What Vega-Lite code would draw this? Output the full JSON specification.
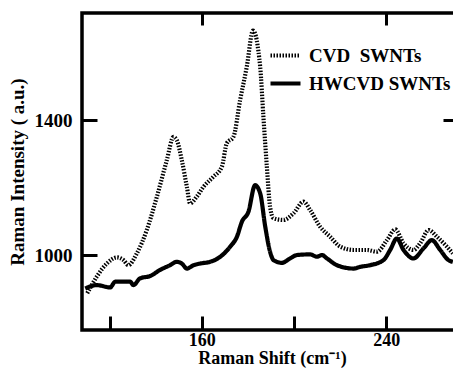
{
  "$schema": "https://vega.github.io/schema/vega-lite/v6.json",
  "width": 378,
  "height": 317,
  "autosize": {"type": "none"},
  "padding": {"left": 82, "top": 13, "right": 0, "bottom": 38},
  "background": "white",
  "config": {
    "view": {"stroke": "black", "strokeWidth": 3.5},
    "font": "Liberation Serif",
    "axis": {"domain": false, "grid": false, "tickColor": "black", "tickWidth": 3, "labelFont": "Liberation Serif", "labelFontWeight": "bold", "labelFontSize": 19, "labelColor": "black", "titleFont": "Liberation Serif", "titleFontWeight": "bold", "titleFontSize": 18, "titleColor": "black"},
    "legend": {"labelFont": "Liberation Serif", "labelFontWeight": "bold", "labelFontSize": 19, "labelColor": "black"}
  },
  "data": {"values": [
    {"x":110.3,"y":887,"s":"CVD\u00a0 SWNTs"},
    {"x":114.4,"y":936,"s":"CVD\u00a0 SWNTs"},
    {"x":118.8,"y":975,"s":"CVD\u00a0 SWNTs"},
    {"x":123.1,"y":993,"s":"CVD\u00a0 SWNTs"},
    {"x":126,"y":985,"s":"CVD\u00a0 SWNTs"},
    {"x":128.1,"y":970,"s":"CVD\u00a0 SWNTs"},
    {"x":131.8,"y":1005,"s":"CVD\u00a0 SWNTs"},
    {"x":136.1,"y":1074,"s":"CVD\u00a0 SWNTs"},
    {"x":140.5,"y":1173,"s":"CVD\u00a0 SWNTs"},
    {"x":144.8,"y":1281,"s":"CVD\u00a0 SWNTs"},
    {"x":147.7,"y":1350,"s":"CVD\u00a0 SWNTs"},
    {"x":149.1,"y":1341,"s":"CVD\u00a0 SWNTs"},
    {"x":151.3,"y":1281,"s":"CVD\u00a0 SWNTs"},
    {"x":153.5,"y":1202,"s":"CVD\u00a0 SWNTs"},
    {"x":154.9,"y":1153,"s":"CVD\u00a0 SWNTs"},
    {"x":157.8,"y":1173,"s":"CVD\u00a0 SWNTs"},
    {"x":160.7,"y":1202,"s":"CVD\u00a0 SWNTs"},
    {"x":165,"y":1232,"s":"CVD\u00a0 SWNTs"},
    {"x":168.7,"y":1262,"s":"CVD\u00a0 SWNTs"},
    {"x":170.8,"y":1331,"s":"CVD\u00a0 SWNTs"},
    {"x":173.7,"y":1350,"s":"CVD\u00a0 SWNTs"},
    {"x":176.6,"y":1459,"s":"CVD\u00a0 SWNTs"},
    {"x":179.5,"y":1558,"s":"CVD\u00a0 SWNTs"},
    {"x":182.2,"y":1665,"s":"CVD\u00a0 SWNTs"},
    {"x":185.3,"y":1558,"s":"CVD\u00a0 SWNTs"},
    {"x":186.7,"y":1410,"s":"CVD\u00a0 SWNTs"},
    {"x":188.2,"y":1262,"s":"CVD\u00a0 SWNTs"},
    {"x":189.6,"y":1143,"s":"CVD\u00a0 SWNTs"},
    {"x":191.1,"y":1109,"s":"CVD\u00a0 SWNTs"},
    {"x":195.4,"y":1104,"s":"CVD\u00a0 SWNTs"},
    {"x":199.8,"y":1124,"s":"CVD\u00a0 SWNTs"},
    {"x":204.1,"y":1158,"s":"CVD\u00a0 SWNTs"},
    {"x":207,"y":1133,"s":"CVD\u00a0 SWNTs"},
    {"x":211.3,"y":1084,"s":"CVD\u00a0 SWNTs"},
    {"x":215.7,"y":1054,"s":"CVD\u00a0 SWNTs"},
    {"x":220,"y":1025,"s":"CVD\u00a0 SWNTs"},
    {"x":225.8,"y":1015,"s":"CVD\u00a0 SWNTs"},
    {"x":231.6,"y":1015,"s":"CVD\u00a0 SWNTs"},
    {"x":236,"y":1010,"s":"CVD\u00a0 SWNTs"},
    {"x":240.3,"y":1044,"s":"CVD\u00a0 SWNTs"},
    {"x":243.9,"y":1076,"s":"CVD\u00a0 SWNTs"},
    {"x":247.5,"y":1035,"s":"CVD\u00a0 SWNTs"},
    {"x":251.8,"y":1015,"s":"CVD\u00a0 SWNTs"},
    {"x":254.7,"y":1035,"s":"CVD\u00a0 SWNTs"},
    {"x":258.4,"y":1074,"s":"CVD\u00a0 SWNTs"},
    {"x":262,"y":1054,"s":"CVD\u00a0 SWNTs"},
    {"x":266.3,"y":1025,"s":"CVD\u00a0 SWNTs"},
    {"x":268.9,"y":1005,"s":"CVD\u00a0 SWNTs"},
    {"x":109.4,"y":901,"s":"HWCVD SWNTs"},
    {"x":114.4,"y":911,"s":"HWCVD SWNTs"},
    {"x":120.2,"y":904,"s":"HWCVD SWNTs"},
    {"x":122.4,"y":921,"s":"HWCVD SWNTs"},
    {"x":128.9,"y":921,"s":"HWCVD SWNTs"},
    {"x":130.3,"y":911,"s":"HWCVD SWNTs"},
    {"x":133.2,"y":931,"s":"HWCVD SWNTs"},
    {"x":137.6,"y":938,"s":"HWCVD SWNTs"},
    {"x":141.9,"y":956,"s":"HWCVD SWNTs"},
    {"x":146.2,"y":970,"s":"HWCVD SWNTs"},
    {"x":149.1,"y":980,"s":"HWCVD SWNTs"},
    {"x":151.3,"y":975,"s":"HWCVD SWNTs"},
    {"x":153.5,"y":960,"s":"HWCVD SWNTs"},
    {"x":156.4,"y":970,"s":"HWCVD SWNTs"},
    {"x":159.3,"y":975,"s":"HWCVD SWNTs"},
    {"x":163.6,"y":980,"s":"HWCVD SWNTs"},
    {"x":168,"y":995,"s":"HWCVD SWNTs"},
    {"x":172.3,"y":1025,"s":"HWCVD SWNTs"},
    {"x":175.2,"y":1054,"s":"HWCVD SWNTs"},
    {"x":177.4,"y":1099,"s":"HWCVD SWNTs"},
    {"x":180.2,"y":1128,"s":"HWCVD SWNTs"},
    {"x":183.1,"y":1207,"s":"HWCVD SWNTs"},
    {"x":185.3,"y":1183,"s":"HWCVD SWNTs"},
    {"x":187.5,"y":1084,"s":"HWCVD SWNTs"},
    {"x":189.6,"y":1010,"s":"HWCVD SWNTs"},
    {"x":191.1,"y":985,"s":"HWCVD SWNTs"},
    {"x":194.7,"y":977,"s":"HWCVD SWNTs"},
    {"x":198.3,"y":990,"s":"HWCVD SWNTs"},
    {"x":201.2,"y":1000,"s":"HWCVD SWNTs"},
    {"x":207,"y":1002,"s":"HWCVD SWNTs"},
    {"x":209.9,"y":995,"s":"HWCVD SWNTs"},
    {"x":212.1,"y":1000,"s":"HWCVD SWNTs"},
    {"x":214.3,"y":990,"s":"HWCVD SWNTs"},
    {"x":218.6,"y":970,"s":"HWCVD SWNTs"},
    {"x":225.8,"y":960,"s":"HWCVD SWNTs"},
    {"x":228.7,"y":965,"s":"HWCVD SWNTs"},
    {"x":233,"y":970,"s":"HWCVD SWNTs"},
    {"x":238.8,"y":985,"s":"HWCVD SWNTs"},
    {"x":241.7,"y":1015,"s":"HWCVD SWNTs"},
    {"x":244.6,"y":1049,"s":"HWCVD SWNTs"},
    {"x":247.5,"y":1015,"s":"HWCVD SWNTs"},
    {"x":251.8,"y":990,"s":"HWCVD SWNTs"},
    {"x":256.2,"y":1020,"s":"HWCVD SWNTs"},
    {"x":259.8,"y":1044,"s":"HWCVD SWNTs"},
    {"x":263.4,"y":1015,"s":"HWCVD SWNTs"},
    {"x":267,"y":985,"s":"HWCVD SWNTs"},
    {"x":268.9,"y":980,"s":"HWCVD SWNTs"}
  ]},
  "layer": [
    {
      "mark": {"type": "line", "interpolate": "monotone", "color": "black", "strokeWidth": 4.2, "clip": true},
      "encoding": {
        "x": {"field": "x", "type": "quantitative", "scale": {"domain": [108, 272], "nice": false, "zero": false},
          "axis": {"orient": "bottom", "values": [120, 160, 200, 240], "labelExpr": "datum.value % 80 == 0 ? datum.label : ''", "labelFontSize": 18, "tickSize": -14, "labelPadding": 15, "title": "Raman Shift (cm\u207b\u00b9)", "titlePadding": 0, "titleX": 190}},
        "y": {"field": "y", "type": "quantitative", "scale": {"domain": [778, 1717], "nice": false, "zero": false},
          "axis": {"orient": "left", "values": [1000, 1400], "format": "d", "tickSize": -15, "labelPadding": 25, "title": "Raman Intensity ( a.u.)", "titleFontSize": 19, "titlePadding": 7}},
        "strokeDash": {"field": "s", "type": "nominal", "scale": {"range": [[1.5, 1.5], [1, 0]]},
          "legend": {"title": null, "orient": "none", "legendX": 186, "legendY": 25, "symbolType": "stroke", "symbolSize": 900, "symbolStrokeWidth": 4.2, "symbolStrokeColor": "black", "rowPadding": -5, "labelOffset": 6}}
      }
    },
    {
      "mark": {"type": "rule", "opacity": 0},
      "encoding": {
        "x": {"field": "x", "type": "quantitative", "axis": {"orient": "top", "values": [160, 240], "labels": false, "tickSize": -12, "title": null}},
        "y": {"field": "y", "type": "quantitative", "axis": {"orient": "right", "values": [1400], "labels": false, "tickSize": -17, "title": null}}
      }
    }
  ],
  "resolve": {"axis": {"x": "independent", "y": "independent"}}
}
